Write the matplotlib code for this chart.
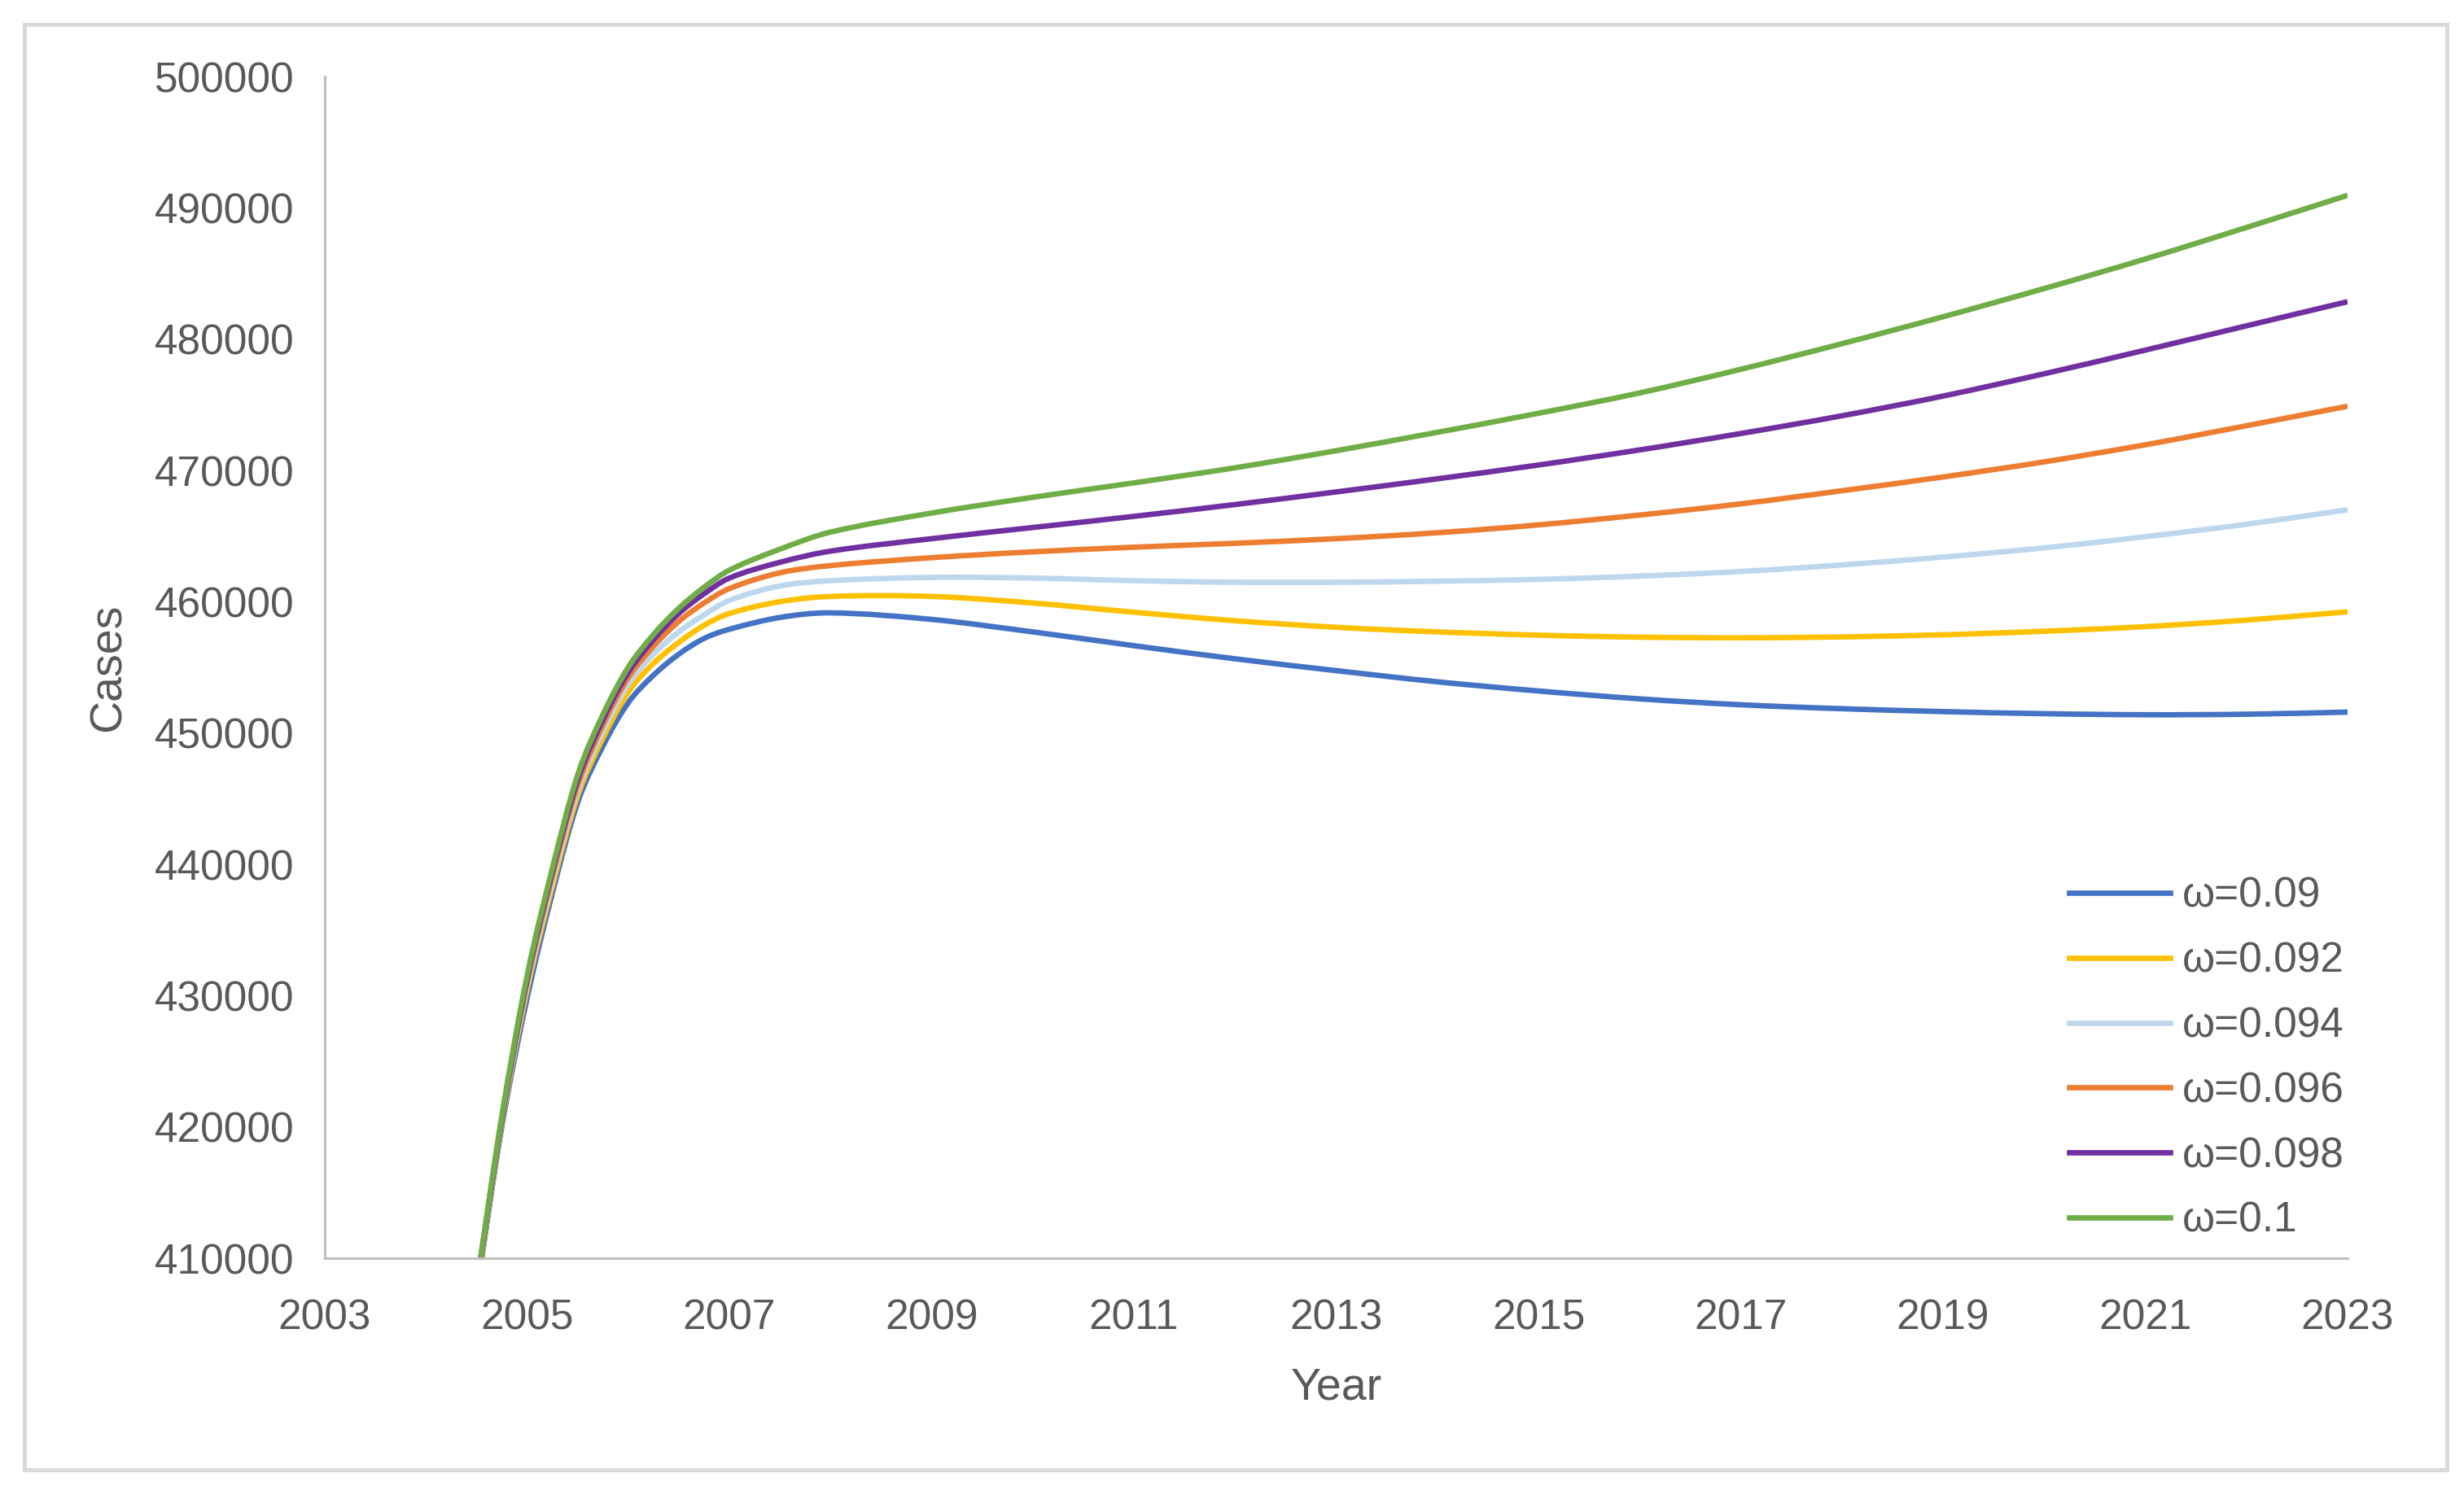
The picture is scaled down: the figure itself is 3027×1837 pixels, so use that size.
import matplotlib.pyplot as plt
from matplotlib.patches import Rectangle, PathPatch
from matplotlib.path import Path

plt.rcParams["font.family"] = ["Liberation Sans", "DejaVu Sans"]

# annees (pas plus fin dans la montee 2004-2008)
years = [2004.5, 2004.75, 2005, 2005.25, 2005.5, 2005.75, 2006, 2006.25,
         2006.5, 2006.75, 2007, 2007.5, 2008, 2009, 2010, 2011, 2012, 2013,
         2014, 2015, 2016, 2017, 2018, 2019, 2020, 2021, 2022, 2023]

labels = ["ω=0.09", "ω=0.092", "ω=0.094", "ω=0.096", "ω=0.098", "ω=0.1"]

cases_090 = [407300, 420000, 429800, 437800, 444700, 449000, 452300, 454400,
             456000, 457200, 457900, 458800, 459150, 458650, 457700, 456650,
             455650, 454750, 453900, 453200, 452600, 452150, 451850, 451630,
             451470, 451390, 451430, 451590]
cases_092 = [407500, 420300, 430400, 438300, 445200, 449600, 453100, 455300,
             456900, 458200, 459100, 460000, 460400, 460400, 459900, 459200,
             458550, 458050, 457700, 457450, 457300, 457250, 457320, 457480,
             457750, 458100, 458600, 459230]
cases_094 = [407600, 420400, 430700, 438700, 445600, 450100, 453700, 456000,
             457700, 459000, 460100, 461200, 461600, 461850, 461800, 461600,
             461480, 461480, 461560, 461700, 461950, 462300, 462800, 463400,
             464100, 464950, 465900, 467000]
cases_096 = [407700, 420500, 431000, 439100, 446000, 450600, 454200, 456600,
             458500, 459900, 461000, 462200, 462750, 463350, 463800, 464150,
             464450, 464800, 465250, 465850, 466600, 467450, 468450, 469500,
             470650, 471950, 473400, 474890]
cases_098 = [407800, 420600, 431200, 439400, 446400, 451000, 454600, 457100,
             459100, 460600, 461800, 463000, 463850, 464800, 465650, 466500,
             467400, 468360, 469360, 470410, 471560, 472810, 474160, 475660,
             477360, 479160, 481010, 482850]
cases_100 = [407900, 420800, 431500, 439700, 446800, 451400, 455000, 457500,
             459500, 461100, 462400, 464000, 465300, 466750, 467950, 469050,
             470200, 471500, 472900, 474350, 475900, 477700, 479650, 481700,
             483850, 486100, 488500, 490950]

series = [cases_090, cases_092, cases_094, cases_096, cases_098, cases_100]
colors = ["#4472C4", "#FFC000", "#BDD7EE", "#ED7D31", "#7030A0", "#70AD47"]
grey = "#595959"


def smooth_path(xs, ys):
    # courbe lissee facon Excel : Bezier cubique passant par chaque point
    n = len(xs)
    slopes = []
    for i in range(n):
        a, b = max(i - 1, 0), min(i + 1, n - 1)
        slopes.append((ys[b] - ys[a]) / (xs[b] - xs[a]))
    verts = [(xs[0], ys[0])]
    codes = [Path.MOVETO]
    for i in range(n - 1):
        h = (xs[i + 1] - xs[i]) / 3
        verts += [(xs[i] + h, ys[i] + slopes[i] * h),
                  (xs[i + 1] - h, ys[i + 1] - slopes[i + 1] * h),
                  (xs[i + 1], ys[i + 1])]
        codes += [Path.CURVE4] * 3
    return Path(verts, codes)


W, H = 3027, 1837
fig = plt.figure(figsize=(W / 100, H / 100), dpi=100)
ax = fig.add_axes([399 / W, 291 / H, 2485 / W, 1452 / H])

for vals, col, lab in zip(series, colors, labels):
    ax.add_patch(PathPatch(smooth_path(years, vals), fill=False,
                           edgecolor=col, lw=4.8, capstyle="butt",
                           joinstyle="round"))
    ax.plot([], [], color=col, lw=4.8, label=lab)

ax.set_xlim(2003, 2023)
ax.set_ylim(410000, 500000)
ax.set_xticks(range(2003, 2024, 2))
ax.set_yticks(range(410000, 500001, 10000))
ax.tick_params(length=0, labelsize=37, labelcolor=grey)
ax.tick_params(axis="x", pad=36)
ax.tick_params(axis="y", pad=27)

for s in ["top", "right"]:
    ax.spines[s].set_visible(False)
for s in ["left", "bottom"]:
    ax.spines[s].set_color("#bfbfbf")
    ax.spines[s].set_linewidth(2.2)

ax.set_xlabel("Year", fontsize=40, color=grey, labelpad=25)
ax.set_ylabel("Cases", fontsize=40, color=grey, labelpad=22)

ax.legend(loc="lower right", bbox_to_anchor=(2880 / W, 1 - 1525 / H),
          bbox_transform=fig.transFigure, frameon=False, fontsize=37,
          handlelength=2.4, handletextpad=0.3, labelspacing=0.6,
          borderpad=0, borderaxespad=0, labelcolor=grey)

# cadre exterieur gris clair
fig.patches.append(Rectangle((30 / W, 31 / H), 2976 / W, 1776 / H,
                             transform=fig.transFigure, fill=False,
                             edgecolor="#d9d9d9", lw=3.6))

fig.savefig("out.png", dpi=100)
